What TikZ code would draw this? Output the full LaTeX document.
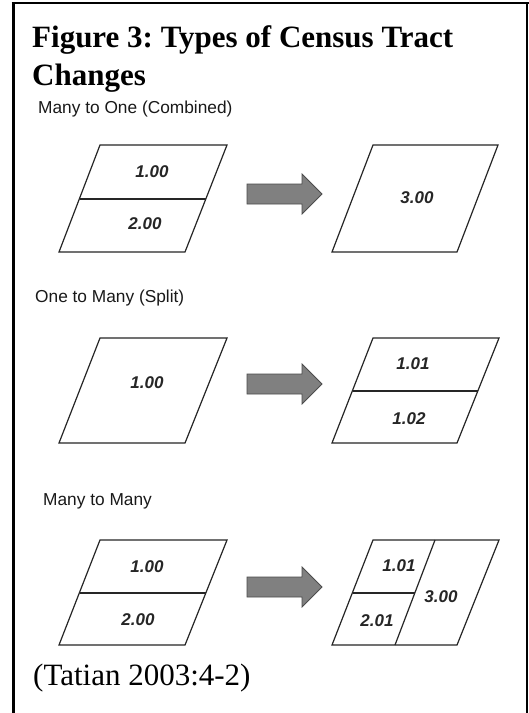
\documentclass[tikz,border=0pt]{standalone}
\usepackage{fontspec}
\setmainfont{Liberation Serif}
\newfontfamily\arialf{Liberation Sans}
\frenchspacing
\tikzset{
  tract/.style={draw=black!85, line width=1.2pt, line join=miter},
  divider/.style={draw=black!85, line width=1.2pt},
  blockarrow/.style={fill=black!50, draw=black!70, line width=0.8pt},
  num/.style={font=\arialf\fontsize{17}{20}\selectfont\bfseries\itshape, text=black!85, inner sep=0pt},
  rowlabel/.style={font=\arialf\fontsize{17.3}{20}\selectfont, text=black!90, anchor=base west, inner sep=0pt},
  titletext/.style={font=\fontsize{31}{38}\selectfont\bfseries, anchor=base west, inner sep=0pt},
  captext/.style={font=\fontsize{31}{38}\selectfont, anchor=base west, inner sep=0pt},
}
\begin{document}
\begin{tikzpicture}[x=1pt,y=-1pt]
\useasboundingbox (0,0) rectangle (529,713);
\fill[white] (0,0) rectangle (529,713);
% frame
\draw[line width=3pt] (13,713) -- (13,3);
\draw[line width=2pt] (11.5,3) -- (529,3);
\draw[line width=1.5pt] (527,3) -- (527,713);
% title
\node[titletext] (t1) at (32,47) {Figure 3: Types of Census Tract};
\node[titletext] (t2) at (32,85) {Changes};
% row labels
\node[rowlabel] (l1) at (38,113) {Many to One (Combined)};
\node[rowlabel] (l2) at (35,302) {One to Many (Split)};
\node[rowlabel] (l3) at (43,505) {Many to Many};
% ---------- row 1 ----------
\draw[tract] (100,145) -- (227,145) -- (185,252) -- (59,252) -- cycle;
\draw[divider] (80,199) -- (206,199);
\node[num] (a1) at (152,172) {1.00};
\node[num] (a2) at (145,224) {2.00};
\draw[blockarrow] (247,184) -- (302,184) -- (302,174) -- (322,194) -- (302,214) -- (302,204) -- (247,204) -- cycle;
\draw[tract] (373,145) -- (498,145) -- (457,252) -- (332,252) -- cycle;
\node[num] (a3) at (417,198) {3.00};
% ---------- row 2 ----------
\draw[tract] (100,338) -- (227,338) -- (185,443) -- (59,443) -- cycle;
\node[num] (b1) at (147,383) {1.00};
\draw[blockarrow] (247,374) -- (302,374) -- (302,364) -- (322,384) -- (302,404) -- (302,394) -- (247,394) -- cycle;
\draw[tract] (373,338) -- (499,338) -- (457,443) -- (332,443) -- cycle;
\draw[divider] (353,391) -- (478,391);
\node[num] (b2) at (413,364) {1.01};
\node[num] (b3) at (409,419) {1.02};
% ---------- row 3 ----------
\draw[tract] (100,540) -- (227,540) -- (185,645) -- (59,645) -- cycle;
\draw[divider] (80,593) -- (206,593);
\node[num] (c1) at (147,567) {1.00};
\node[num] (c2) at (138,620) {2.00};
\draw[blockarrow] (247,577) -- (302,577) -- (302,567) -- (322,587) -- (302,607) -- (302,597) -- (247,597) -- cycle;
\draw[tract] (373,540) -- (499,540) -- (457,645) -- (332,645) -- cycle;
\draw[divider] (435,540) -- (395,645);
\draw[divider] (353,593) -- (415,593);
\node[num] (c3) at (399,566) {1.01};
\node[num] (c4) at (377,621) {2.01};
\node[num] (c5) at (441,597) {3.00};
% caption
\node[captext] (cap) at (33,685) {(Tatian 2003:4-2)};
\end{tikzpicture}
\end{document}
